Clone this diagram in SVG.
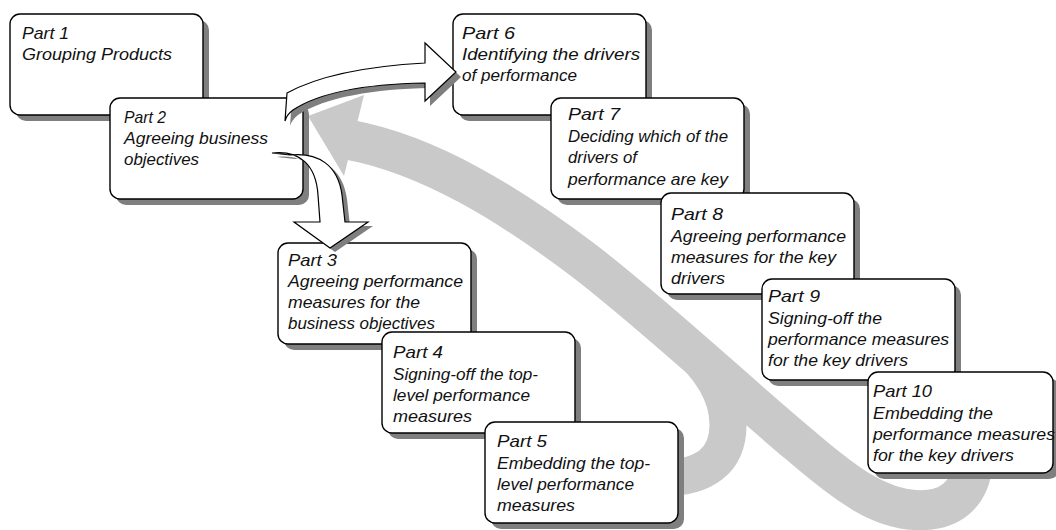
<svg xmlns="http://www.w3.org/2000/svg" width="1056" height="530" viewBox="0 0 1056 530">
  <style>
    .shadow { fill: #7f7f7f; }
    .box { fill: #ffffff; stroke: #000000; stroke-width: 1.4; }
    .t { font-family: "Liberation Sans", Arial, sans-serif; font-style: italic; font-size: 17px; fill: #111111; }
    .band { fill: none; stroke: #c9c9c9; stroke-linecap: butt; stroke-linejoin: round; }
    .arrow { fill: #ffffff; stroke: #000000; stroke-width: 1.2; stroke-linejoin: miter; }
    .arrow-shadow { fill: #7f7f7f; }
  </style>
  <defs>
    <rect id="card" width="193" height="101" rx="10" ry="10"/>
    <rect id="card-narrow" width="185" height="101" rx="10" ry="10"/>
  </defs>
  <rect width="1056" height="530" fill="#ffffff"/>

  <!-- feedback loop drawn behind the cards -->
  <g id="connectors">
    <path class="band" stroke-width="40" d="M 350,140 C 430,155 510,205 583,260 C 650,311 740,395 800,445 C 850,488 880,508 915,510 C 950,512 970,495 973,462"/>
    <path class="band" stroke-width="37" d="M 662,478 C 705,478 728,460 728,425 C 728,395 712,368 676,336"/>
    <polygon fill="#c9c9c9" points="308,116 364,95 344,176"/>
  </g>

  <g id="nodes">
    <g id="part1">
      <use href="#card" x="16" y="20" class="shadow"/>
      <use href="#card" x="10" y="14" class="box"/>
      <text class="t" x="22" y="39" textLength="47" lengthAdjust="spacingAndGlyphs">Part 1</text>
      <text class="t" x="22" y="60" textLength="150" lengthAdjust="spacingAndGlyphs">Grouping Products</text>
    </g>
    <g id="part2">
      <use href="#card" x="116" y="104" class="shadow"/>
      <use href="#card" x="110" y="98" class="box"/>
      <text class="t" x="124" y="123" textLength="42" lengthAdjust="spacingAndGlyphs">Part 2</text>
      <text class="t" x="124" y="144" textLength="144" lengthAdjust="spacingAndGlyphs">Agreeing business</text>
      <text class="t" x="124" y="165" textLength="75" lengthAdjust="spacingAndGlyphs">objectives</text>
    </g>
    <g id="part3">
      <use href="#card" x="284" y="249" class="shadow"/>
      <use href="#card" x="278" y="243" class="box"/>
      <text class="t" x="288" y="266" textLength="49" lengthAdjust="spacingAndGlyphs">Part 3</text>
      <text class="t" x="288" y="287" textLength="175" lengthAdjust="spacingAndGlyphs">Agreeing performance</text>
      <text class="t" x="288" y="308" textLength="132" lengthAdjust="spacingAndGlyphs">measures for the</text>
      <text class="t" x="288" y="329" textLength="147" lengthAdjust="spacingAndGlyphs">business objectives</text>
    </g>
    <g id="part4">
      <use href="#card" x="388" y="338" class="shadow"/>
      <use href="#card" x="382" y="332" class="box"/>
      <text class="t" x="393" y="358" textLength="50" lengthAdjust="spacingAndGlyphs">Part 4</text>
      <text class="t" x="393" y="380" textLength="145" lengthAdjust="spacingAndGlyphs">Signing-off the top-</text>
      <text class="t" x="393" y="401" textLength="137" lengthAdjust="spacingAndGlyphs">level performance</text>
      <text class="t" x="393" y="422" textLength="79" lengthAdjust="spacingAndGlyphs">measures</text>
    </g>
    <g id="part5">
      <use href="#card" x="491" y="428" class="shadow"/>
      <use href="#card" x="485" y="422" class="box"/>
      <text class="t" x="497" y="447" textLength="50" lengthAdjust="spacingAndGlyphs">Part 5</text>
      <text class="t" x="497" y="469" textLength="153" lengthAdjust="spacingAndGlyphs">Embedding the top-</text>
      <text class="t" x="497" y="490" textLength="137" lengthAdjust="spacingAndGlyphs">level performance</text>
      <text class="t" x="497" y="511" textLength="78" lengthAdjust="spacingAndGlyphs">measures</text>
    </g>
    <g id="part6">
      <use href="#card" x="459" y="20" class="shadow"/>
      <use href="#card" x="453" y="14" class="box"/>
      <text class="t" x="462" y="39" textLength="53" lengthAdjust="spacingAndGlyphs">Part 6</text>
      <text class="t" x="462" y="60" textLength="178" lengthAdjust="spacingAndGlyphs">Identifying the drivers</text>
      <text class="t" x="462" y="81" textLength="115" lengthAdjust="spacingAndGlyphs">of performance</text>
    </g>
    <g id="part7">
      <use href="#card" x="557" y="104" class="shadow"/>
      <use href="#card" x="551" y="98" class="box"/>
      <text class="t" x="568" y="120" textLength="52" lengthAdjust="spacingAndGlyphs">Part 7</text>
      <text class="t" x="568" y="142" textLength="160" lengthAdjust="spacingAndGlyphs">Deciding which of the</text>
      <text class="t" x="568" y="163" textLength="69" lengthAdjust="spacingAndGlyphs">drivers of</text>
      <text class="t" x="568" y="185" textLength="160" lengthAdjust="spacingAndGlyphs">performance are key</text>
    </g>
    <g id="part8">
      <use href="#card" x="667" y="199" class="shadow"/>
      <use href="#card" x="661" y="193" class="box"/>
      <text class="t" x="671" y="220" textLength="52" lengthAdjust="spacingAndGlyphs">Part 8</text>
      <text class="t" x="671" y="242" textLength="175" lengthAdjust="spacingAndGlyphs">Agreeing performance</text>
      <text class="t" x="671" y="263" textLength="165" lengthAdjust="spacingAndGlyphs">measures for the key</text>
      <text class="t" x="671" y="284" textLength="54" lengthAdjust="spacingAndGlyphs">drivers</text>
    </g>
    <g id="part9">
      <use href="#card" x="768" y="285" class="shadow"/>
      <use href="#card" x="762" y="279" class="box"/>
      <text class="t" x="768" y="302" textLength="52" lengthAdjust="spacingAndGlyphs">Part 9</text>
      <text class="t" x="768" y="324" textLength="114" lengthAdjust="spacingAndGlyphs">Signing-off the</text>
      <text class="t" x="768" y="345" textLength="181" lengthAdjust="spacingAndGlyphs">performance measures</text>
      <text class="t" x="768" y="366" textLength="140" lengthAdjust="spacingAndGlyphs">for the key drivers</text>
    </g>
    <g id="part10">
      <use href="#card-narrow" x="874" y="378" class="shadow"/>
      <use href="#card-narrow" x="868" y="372" class="box"/>
      <text class="t" x="873" y="397" textLength="59" lengthAdjust="spacingAndGlyphs">Part 10</text>
      <text class="t" x="873" y="419" textLength="120" lengthAdjust="spacingAndGlyphs">Embedding the</text>
      <text class="t" x="873" y="440" textLength="182" lengthAdjust="spacingAndGlyphs">performance measures</text>
      <text class="t" x="873" y="461" textLength="141" lengthAdjust="spacingAndGlyphs">for the key drivers</text>
    </g>
  </g>

  <!-- block arrows leaving Part 2 -->
  <g id="connectors-front">
    <g id="arrow-to-part6">
      <path class="arrow-shadow" transform="translate(5,5)" d="M 287,93 C 320,75 370,66 425,63 L 425,43 L 456,72 L 425,101 L 425,83 C 370,84 320,92 293,110 C 289,113 286,117 285,121 Z"/>
      <path class="arrow" d="M 287,93 C 320,75 370,66 425,63 L 425,43 L 456,72 L 425,101 L 425,83 C 370,84 320,92 293,110 C 289,113 286,117 285,121 Z"/>
    </g>
    <g id="arrow-to-part3">
      <path class="arrow-shadow" transform="translate(5,4)" d="M 272,153 C 300,150 316,165 318,195 L 320,222 L 294,222 L 330,248 L 368,222 L 345,222 L 342,195 C 338,165 318,152 290,155 Z"/>
      <path class="arrow" d="M 272,153 C 300,150 316,165 318,195 L 320,222 L 294,222 L 330,248 L 368,222 L 345,222 L 342,195 C 338,165 318,152 290,155 Z"/>
    </g>
  </g>
</svg>
